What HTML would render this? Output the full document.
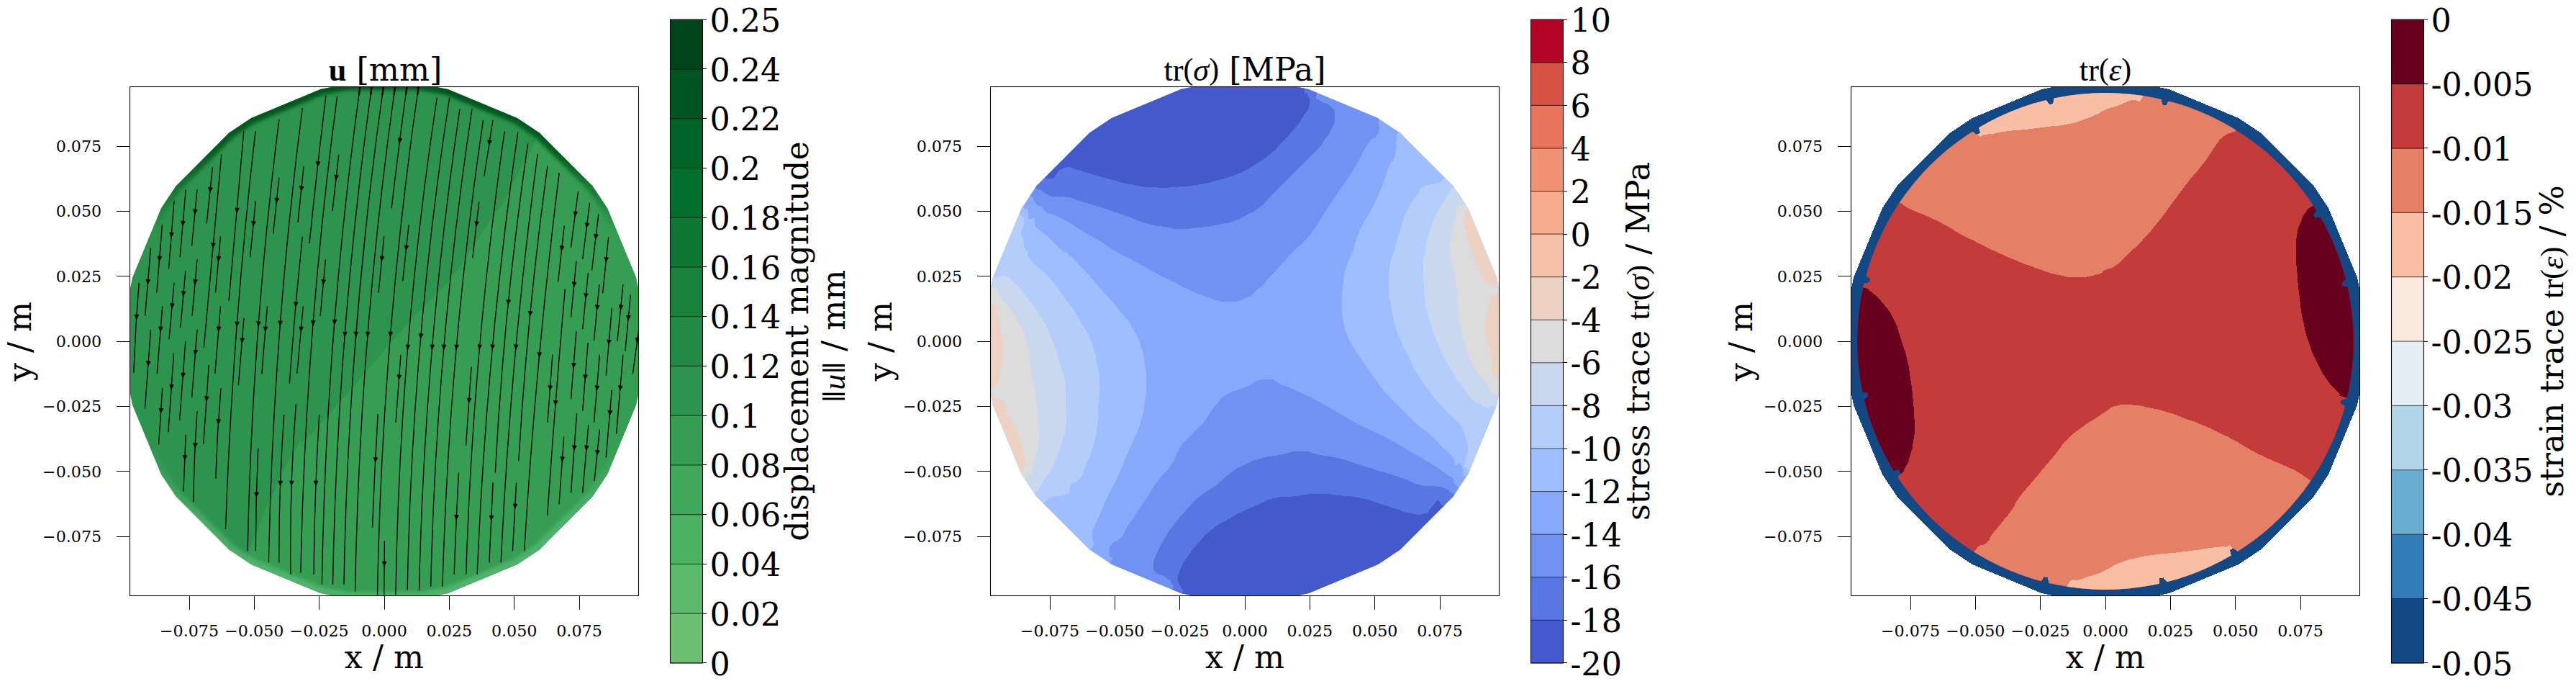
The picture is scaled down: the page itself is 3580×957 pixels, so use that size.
<!DOCTYPE html>
<html lang="en"><head><meta charset="utf-8"><title>fields</title>
<style>html,body{margin:0;padding:0;background:#fff}svg{display:block}</style></head>
<body>
<svg width="3580" height="957" viewBox="0 0 3580 957">
<style>
.tk{stroke:#000;stroke-width:1;shape-rendering:crispEdges}
.st{font-family:'DejaVu Serif', 'Liberation Serif', serif;font-size:22.2px;fill:#000}
.bt{font-family:'DejaVu Serif', 'Liberation Serif', serif;font-size:44.4px;fill:#000}
.mt{font-family:'Liberation Serif', 'DejaVu Serif', serif;font-size:44.4px;fill:#000}
</style>
<rect width="3580" height="957" fill="#fff"/>
<defs>
<clipPath id="ax0"><rect x="180.5" y="120.5" width="707.0" height="707.0"/></clipPath>
<clipPath id="pg0"><polygon points="891.2,526.1 891.2,421.9 884.0,385.4 844.1,289.2 823.4,258.3 749.7,184.6 718.8,163.9 622.6,124.0 586.1,116.8 481.9,116.8 445.4,124.0 349.2,163.9 318.3,184.6 244.6,258.3 223.9,289.2 184.0,385.4 176.8,421.9 176.8,526.1 184.0,562.6 223.9,658.8 244.6,689.7 318.3,763.4 349.2,784.1 445.4,824.0 481.9,831.2 586.1,831.2 622.6,824.0 718.8,784.1 749.7,763.4 823.4,689.7 844.1,658.8 884.0,562.6"/></clipPath>
<linearGradient id="edg" gradientUnits="userSpaceOnUse" x1="0" y1="113" x2="0" y2="835"><stop offset="0" stop-color="#02561b" stop-opacity="1"/><stop offset="0.14" stop-color="#02561b" stop-opacity="0.9"/><stop offset="0.29" stop-color="#02561b" stop-opacity="0"/><stop offset="0.70" stop-color="#6cc684" stop-opacity="0"/><stop offset="0.84" stop-color="#6cc684" stop-opacity="0.45"/><stop offset="1" stop-color="#6cc684" stop-opacity="0.55"/></linearGradient>
<filter id="bl" x="-5%" y="-5%" width="110%" height="110%"><feGaussianBlur stdDeviation="2.8"/></filter>
</defs>
<g clip-path="url(#ax0)">
<g clip-path="url(#pg0)">
<rect x="180.5" y="120.5" width="707.0" height="707.0" fill="#2c944c"/>
<path d="M770.0,130.0C761.7,151.3 759.0,162.7 745.0,194.0C731.0,225.3 742.0,197.3 728.0,224.0C714.0,250.7 717.0,248.7 703.0,274.0C689.0,299.3 699.7,279.7 686.0,300.0C672.3,320.3 678.7,310.0 662.0,335.0C645.3,360.0 656.7,348.3 636.0,375.0C615.3,401.7 626.7,386.3 600.0,415.0C573.3,443.7 590.3,422.7 556.0,461.0C521.7,499.3 537.3,483.7 497.0,530.0C456.7,576.3 464.3,567.7 435.0,600.0C405.7,632.3 428.0,597.3 409.0,627.0C390.0,656.7 395.0,652.7 378.0,689.0C361.0,725.3 368.0,711.0 358.0,736.0C348.0,761.0 355.7,742.7 348.0,764.0C340.3,785.3 339.3,788.0 335.0,800.0L900,900L900,100Z" fill="#359e53"/>
<polygon points="891.2,526.1 891.2,421.9 884.0,385.4 844.1,289.2 823.4,258.3 749.7,184.6 718.8,163.9 622.6,124.0 586.1,116.8 481.9,116.8 445.4,124.0 349.2,163.9 318.3,184.6 244.6,258.3 223.9,289.2 184.0,385.4 176.8,421.9 176.8,526.1 184.0,562.6 223.9,658.8 244.6,689.7 318.3,763.4 349.2,784.1 445.4,824.0 481.9,831.2 586.1,831.2 622.6,824.0 718.8,784.1 749.7,763.4 823.4,689.7 844.1,658.8 884.0,562.6" fill="none" stroke="url(#edg)" stroke-width="17" stroke-linejoin="round" filter="url(#bl)"/>
</g>
<path d="M209.5,344.2L201.6,438.7M225.5,311.8L217.8,406.2M242.0,279.2L234.5,373.5M258.2,263.2L250.1,357.2M274.0,263.2L266.6,341.4M295.4,232.3L287.2,310.1M307.8,214.5Q295.3,348.6 283.3,482.8M306.5,328.2L299.5,406.2M338.8,182.1Q328.8,299.9 318.1,417.8M355.1,182.1Q323.1,458.4 313.5,734.7M355.3,279.2L347.6,357.2M387.9,165.7Q350.1,465.5 344.1,765.3M387.8,246.7L379.6,325.2M420.3,150.0Q379.5,465.6 373.4,781.1M422.1,231.2L414.0,308.7M420.3,328.7Q409.3,430.6 402.4,532.5M452.9,133.2Q440.4,235.7 430.0,338.1M468.7,133.2Q424.4,464.4 417.9,795.5M470.8,214.9L462.0,292.8M193.2,392.9Q188.1,455.4 185.8,517.9M274.0,360.4L267.0,438.7M257.8,376.7L250.8,454.9M242.0,392.9L235.0,471.2M225.7,425.4L218.3,519.0M209.5,457.9L201.4,567.8M274.0,457.9L266.6,552.2M257.8,474.2L249.6,584.0M241.5,490.4L233.9,600.3M306.5,425.4L298.8,519.0M339.0,441.7L331.3,535.3M371.5,425.4L363.8,519.0M421.3,425.4L412.8,519.0M225.7,539.2L220.6,617.2M290.3,506.7L282.8,616.5M274.0,571.2Q269.6,634.2 268.9,697.3M258.2,603.7L255.0,682.5M307.0,539.2Q301.6,602.0 299.8,664.8M358.7,623.0Q355.4,694.1 355.3,765.3M394.7,575.9Q387.4,678.8 387.8,781.6M411.4,560.8Q402.2,679.3 404.0,797.8M452.5,360.5L445.1,438.8M500.3,121.0Q452.8,466.4 447.4,811.8M516.5,121.0Q468.6,466.4 462.5,811.8M532.8,121.0Q483.7,466.4 478.0,811.8M549.0,121.0Q499.6,471.3 493.6,821.6M565.3,121.0Q553.8,205.0 544.2,289.0M581.5,121.0Q530.7,473.6 524.5,826.2M607.3,135.5Q555.0,480.9 550.0,826.2M624.7,135.5Q572.3,477.4 566.2,819.3M639.0,151.3Q589.8,485.9 582.5,820.4M656.0,151.3Q606.1,483.0 598.7,814.6M671.5,166.9Q623.8,490.8 615.0,814.6M533.7,328.0L526.1,406.5M568.1,312.2L559.7,390.2M557.0,492.7L550.0,586.7M655.1,509.4L647.5,619.0M443.7,576.2Q436.9,687.0 436.2,797.9M525.2,575.1Q520.5,654.0 517.5,732.8M637.5,656.2Q633.5,727.0 631.2,797.9M534.4,751.3L533.7,827.0M685.0,166.9L672.9,244.6M701.2,182.4Q657.2,490.1 647.7,797.7M719.8,183.1Q675.8,490.4 663.2,797.7M733.7,199.4Q700.2,427.9 688.3,656.5M747.2,214.0Q709.3,497.7 696.2,781.4M760.9,230.7Q732.8,435.5 720.8,640.3M777.2,240.4Q744.4,502.8 728.7,765.2M665.8,279.9L656.8,358.2M803.5,265.5L793.5,343.7M819.5,281.8L809.7,360.0M831.8,297.3L822.5,375.8M845.7,329.4L837.6,407.2M784.2,313.6L775.6,391.6M800.9,362.8L793.5,440.8M817.4,379.0L809.7,457.1M832.9,395.1L825.5,473.5M865.9,395.1L858.0,473.5M876.3,409.7L868.9,487.9M850.3,428.1L842.2,522.1M888.5,452.0L879.4,519.3M785.3,401.4Q771.3,558.9 760.7,716.4M800.9,460.1L793.5,554.4M817.1,476.3L809.7,570.6M833.4,492.6L825.5,586.9M865.9,492.6L856.6,602.4M767.9,492.6L761.0,586.9M850.3,541.6L842.2,635.6M801.6,574.1L793.5,684.4M817.8,590.4L809.7,684.4M833.4,596.6L826.0,668.1M783.7,606.1L777.0,700.2M685.1,670.4L679.9,781.4M717.6,670.4L712.4,765.2" fill="none" stroke="#000" stroke-width="1.35"/>
<path d="M205.3,394.6L202.9,388.2L208.7,388.7ZM221.4,362.4L219.0,356.0L224.8,356.4ZM238.0,329.4L235.6,323.0L241.4,323.4ZM253.9,313.6L251.5,307.2L257.3,307.7ZM270.8,297.4L268.5,290.9L274.2,291.5ZM291.8,266.8L289.5,260.3L295.3,260.9ZM295.8,344.1L293.5,337.6L299.3,338.2ZM303.4,362.6L301.1,356.2L306.9,356.7ZM329.0,295.3L326.7,288.9L332.5,289.4ZM329.1,453.4L326.6,447.0L332.4,447.4ZM351.9,313.9L349.6,307.4L355.4,308.0ZM359.0,452.9L356.5,446.5L362.3,446.9ZM384.1,281.8L381.9,275.3L387.7,275.9ZM389.2,452.2L386.7,445.8L392.5,446.2ZM418.6,265.1L416.3,258.6L422.1,259.2ZM410.7,426.0L408.4,419.6L414.2,420.1ZM441.5,231.0L439.3,224.5L445.0,225.1ZM434.9,451.7L432.5,445.3L438.2,445.7ZM466.9,249.6L464.7,243.1L470.5,243.7ZM189.5,443.6L187.0,437.2L192.8,437.6ZM270.9,394.6L268.6,388.2L274.4,388.7ZM254.7,411.1L252.4,404.7L258.2,405.2ZM238.9,427.8L236.5,421.4L242.3,421.9ZM222.9,460.3L220.5,453.9L226.3,454.3ZM205.8,508.2L203.4,501.8L209.1,502.2ZM271.3,492.8L268.9,486.4L274.6,486.8ZM254.1,524.4L251.6,518.0L257.4,518.4ZM238.0,540.7L235.6,534.3L241.3,534.7ZM303.6,460.3L301.2,453.9L307.0,454.3ZM336.2,476.1L333.8,469.7L339.6,470.1ZM368.6,460.3L366.2,453.9L372.0,454.3ZM418.1,460.3L415.8,453.9L421.6,454.4ZM223.5,573.6L221.0,567.2L226.7,567.6ZM286.9,556.9L284.4,550.5L290.2,550.9ZM271.1,621.9L268.5,615.6L274.2,615.8ZM256.8,638.9L254.1,632.6L259.9,632.8ZM303.3,589.0L300.8,582.6L306.6,583.0ZM356.3,690.2L353.6,683.9L359.4,684.1ZM389.5,674.4L386.8,668.1L392.6,668.3ZM405.1,674.4L402.4,668.1L408.2,668.3ZM449.2,395.0L446.9,388.5L452.7,389.1ZM464.6,450.5L462.2,444.1L467.9,444.5ZM479.0,467.5L476.6,461.1L482.3,461.5ZM494.5,467.5L492.1,461.1L497.8,461.5ZM510.8,467.5L508.4,461.1L514.1,461.5ZM555.1,198.5L553.0,192.0L558.8,192.7ZM542.3,467.5L540.0,461.1L545.7,461.5ZM566.4,485.3L564.1,478.9L569.8,479.3ZM584.5,469.8L582.2,463.4L588.0,463.9ZM600.3,485.3L598.0,478.9L603.8,479.4ZM616.5,485.3L614.2,478.9L620.0,479.4ZM634.0,485.3L631.7,478.9L637.5,479.4ZM530.4,362.5L528.1,356.0L533.8,356.6ZM564.3,347.4L562.1,340.9L567.9,341.5ZM554.4,527.1L552.0,520.7L557.8,521.1ZM651.6,559.6L649.2,553.2L654.9,553.6ZM438.9,674.3L436.2,668.0L442.0,668.2ZM521.5,641.8L519.0,635.5L524.8,635.8ZM634.2,721.9L631.5,715.6L637.3,715.8ZM534.1,786.4L531.2,780.2L537.0,780.2ZM679.6,201.3L677.7,194.7L683.5,195.6ZM666.2,485.2L663.9,478.8L669.7,479.3ZM684.1,485.2L681.8,478.7L687.6,479.3ZM706.1,423.0L703.8,416.5L709.6,417.1ZM716.6,485.2L714.3,478.7L720.1,479.3ZM736.5,438.8L734.2,432.3L740.0,432.9ZM749.3,496.1L747.0,489.6L752.8,490.2ZM661.9,314.1L659.7,307.6L665.5,308.3ZM799.0,300.4L797.0,293.9L802.7,294.6ZM815.2,316.2L813.1,309.7L818.8,310.4ZM827.7,331.8L825.6,325.3L831.3,326.0ZM842.1,363.8L839.9,357.3L845.6,357.9ZM780.4,348.0L778.2,341.5L784.0,342.1ZM797.5,398.2L795.2,391.7L801.0,392.3ZM814.0,414.0L811.7,407.5L817.4,408.1ZM829.6,430.2L827.3,423.7L833.1,424.3ZM862.4,430.2L860.1,423.7L865.9,424.3ZM873.0,444.6L870.7,438.1L876.5,438.7ZM846.0,478.3L843.6,471.9L849.4,472.4ZM885.3,476.0L883.2,469.4L889.0,470.2ZM771.9,562.8L769.4,556.4L775.2,556.8ZM796.9,510.8L794.5,504.4L800.3,504.8ZM813.1,527.0L810.7,520.6L816.5,521.0ZM829.3,542.1L826.9,535.7L832.7,536.2ZM861.7,542.1L859.3,535.7L865.1,536.2ZM764.3,542.1L761.8,535.7L767.6,536.1ZM847.3,576.7L844.9,570.3L850.7,570.8ZM797.8,625.3L795.4,618.9L801.2,619.3ZM814.8,625.3L812.4,618.9L818.2,619.4ZM829.8,631.8L827.5,625.3L833.3,625.9ZM781.2,641.0L778.8,634.6L784.5,635.0ZM682.7,722.5L680.1,716.2L685.8,716.4ZM715.6,706.3L713.1,699.9L718.9,700.3Z" fill="#000" stroke="#000" stroke-width="0.7" stroke-linejoin="miter"/>
<path d="M500.3,121L498.9,132M516.5,121L515.1,132M532.8,121L531.4,132M549.0,121L547.6,132M565.3,121L563.9,132M581.5,121L580.1,132" fill="none" stroke="#000" stroke-width="2.4"/>
</g>
<defs>
<clipPath id="ax1"><rect x="1376.5" y="120.5" width="707.0" height="707.0"/></clipPath>
<clipPath id="pg1"><polygon points="2087.2,526.1 2087.2,421.9 2080.0,385.4 2040.1,289.2 2019.4,258.3 1945.7,184.6 1914.8,163.9 1818.6,124.0 1782.1,116.8 1677.9,116.8 1641.4,124.0 1545.2,163.9 1514.3,184.6 1440.6,258.3 1419.9,289.2 1380.0,385.4 1372.8,421.9 1372.8,526.1 1380.0,562.6 1419.9,658.8 1440.6,689.7 1514.3,763.4 1545.2,784.1 1641.4,824.0 1677.9,831.2 1782.1,831.2 1818.6,824.0 1914.8,784.1 1945.7,763.4 2019.4,689.7 2040.1,658.8 2080.0,562.6"/></clipPath>
</defs>
<g clip-path="url(#ax1)"><g clip-path="url(#pg1)" shape-rendering="crispEdges">
<rect x="1376.5" y="120.5" width="707.0" height="707.0" fill="#86a9fc"/>
<path d="M1398.6,249.8C1409.6,257.3 1419.2,263.0 1431.7,272.2C1444.2,281.4 1433.2,273.4 1436.1,277.4C1439.0,281.5 1436.6,281.2 1440.4,284.4C1444.2,287.6 1442.7,283.5 1447.4,287.0C1452.0,290.5 1448.0,290.8 1454.3,294.8C1460.7,298.9 1457.8,295.4 1466.5,299.2C1475.2,303.0 1470.0,300.4 1480.5,306.2C1490.9,312.0 1486.3,309.6 1497.9,316.6C1509.5,323.6 1503.7,320.1 1515.3,327.0C1526.9,334.0 1521.1,330.2 1532.7,337.5C1544.3,344.7 1534.7,340.0 1550.1,348.8C1565.5,357.6 1560.0,353.7 1578.9,363.9C1597.8,374.2 1590.5,370.9 1606.8,379.6C1623.0,388.3 1613.7,383.1 1627.7,390.0C1641.6,397.0 1632.3,393.2 1648.6,400.5C1664.8,407.8 1657.8,405.8 1676.4,412.0C1695.0,418.1 1686.4,418.1 1704.3,418.9C1722.1,419.8 1715.6,420.0 1730.0,414.4C1744.4,408.8 1735.8,412.1 1747.4,402.2C1759.0,392.4 1753.2,397.0 1764.8,384.8C1776.4,372.6 1771.8,377.3 1782.2,365.7C1792.7,354.1 1783.4,363.3 1796.2,350.0C1808.9,336.7 1805.4,344.4 1820.5,325.9C1835.6,307.4 1827.5,315.4 1841.4,294.5C1855.3,273.6 1848.4,284.1 1862.3,263.2C1876.2,242.3 1870.4,252.8 1883.2,231.9C1896.0,211.0 1890.2,215.6 1900.6,200.5C1911.1,185.4 1909.3,197.0 1914.5,186.6C1919.8,176.2 1915.5,176.5 1916.3,169.2C1917.1,161.9 1909.8,177.6 1917.0,164.7C1924.1,151.7 1930.8,141.8 1937.7,130.4L2050.7,-56.6L1957.0,-103.0L1856.8,-132.9L1753.0,-145.6L1648.6,-140.6L1546.4,-118.2L1449.5,-78.9L1360.6,-23.9L1282.2,45.2L1216.5,126.6Z" fill="#6f92f3"/>
<path d="M1405.5,236.4C1416.3,244.3 1424.4,251.0 1437.8,260.0C1451.2,269.1 1440.1,260.3 1445.6,263.5C1451.2,266.7 1447.4,266.4 1454.3,269.6C1461.3,272.8 1456.7,271.6 1466.5,273.1C1476.4,274.5 1473.5,272.2 1483.9,273.9C1494.4,275.7 1487.4,275.1 1497.9,278.3C1508.3,281.5 1503.7,280.0 1515.3,283.5C1526.9,287.0 1516.1,283.3 1532.7,288.7C1549.3,294.2 1544.9,292.6 1565.0,299.8C1585.0,306.9 1574.3,305.0 1592.8,310.2C1611.4,315.4 1605.6,312.9 1620.7,315.4C1635.8,318.0 1623.0,317.6 1638.1,317.9C1653.2,318.1 1647.4,318.1 1666.0,316.1C1684.5,314.2 1676.4,315.4 1693.8,311.9C1711.2,308.5 1706.1,309.7 1718.2,305.7C1730.3,301.6 1719.1,305.8 1730.0,299.8C1740.9,293.7 1738.1,297.4 1750.9,287.6C1763.7,277.7 1755.5,282.9 1768.3,270.2C1781.1,257.4 1775.3,263.2 1789.2,249.3C1803.1,235.3 1796.2,242.3 1810.1,228.4C1824.0,214.5 1820.5,219.1 1831.0,207.5C1841.4,195.9 1835.0,202.9 1841.4,193.6C1847.8,184.3 1845.5,190.1 1850.1,179.6C1854.8,169.2 1855.3,172.7 1855.3,162.2C1855.3,151.8 1857.1,155.8 1850.1,148.3C1843.2,140.8 1841.2,145.7 1834.5,139.6C1827.7,133.4 1827.7,145.9 1829.9,129.8C1832.1,113.8 1837.4,104.2 1841.1,91.4L1902.9,-121.4L1796.9,-142.4L1688.9,-144.6L1582.1,-128.1L1479.9,-93.3L1385.2,-41.3L1301.0,26.4L1229.8,107.7Z" fill="#5977e3"/>
<path d="M1422.6,222.2C1432.9,230.6 1435.1,243.7 1453.6,247.5C1472.0,251.3 1464.0,237.7 1477.9,233.6C1491.9,229.5 1482.6,232.7 1495.3,235.3C1508.1,238.0 1500.0,237.0 1516.2,241.6C1532.5,246.3 1525.5,244.4 1544.1,249.3C1562.7,254.2 1551.1,252.5 1571.9,256.2C1592.8,260.0 1585.9,259.3 1606.8,260.4C1627.7,261.6 1616.1,260.9 1634.6,259.7C1653.2,258.6 1643.9,259.8 1662.5,256.9C1681.0,254.0 1671.8,255.9 1690.3,251.0C1708.9,246.1 1705.0,247.0 1718.2,242.3C1731.4,237.7 1720.3,242.3 1730.0,237.1C1739.7,231.9 1735.8,234.2 1747.4,226.6C1759.0,219.1 1753.2,224.3 1764.8,214.5C1776.4,204.6 1770.6,209.2 1782.2,197.0C1793.8,184.9 1789.8,190.1 1799.6,177.9C1809.5,165.7 1805.1,171.5 1811.8,160.5C1818.6,149.5 1818.1,154.7 1819.8,144.8C1821.6,135.0 1819.1,138.1 1817.0,130.9C1815.0,123.7 1811.6,138.8 1813.6,123.2C1815.5,107.7 1819.7,97.3 1822.8,84.3L1873.7,-129.1L1775.9,-144.3L1677.0,-143.7L1579.4,-127.4L1485.6,-95.8L1398.1,-49.7L1319.0,9.8L1250.4,81.1Z" fill="#445acc"/>
<path d="M1522.3,816.4C1529.2,805.0 1536.4,797.3 1543.1,782.2C1549.7,767.1 1542.0,779.4 1542.4,771.1C1542.7,762.7 1538.9,765.3 1544.1,757.1C1549.3,749.0 1549.9,756.0 1558.0,746.7C1566.1,737.4 1560.3,742.0 1568.5,729.3C1576.6,716.5 1573.1,722.3 1582.4,708.4C1591.7,694.5 1587.0,701.4 1596.3,687.5C1605.6,673.6 1599.8,680.5 1610.3,666.6C1620.7,652.7 1618.4,659.6 1627.7,645.7C1636.9,631.8 1631.1,636.4 1638.1,624.8C1645.1,613.2 1638.1,622.5 1648.6,610.9C1659.0,599.3 1659.0,601.5 1669.4,590.0C1679.9,578.5 1672.9,585.5 1679.9,576.3C1686.9,567.1 1682.2,571.7 1690.3,562.4C1698.5,553.1 1691.0,556.6 1704.3,548.5C1717.5,540.3 1712.2,545.2 1730.0,538.0C1747.9,530.8 1740.5,528.0 1757.9,526.9C1775.3,525.7 1764.8,527.9 1782.2,534.5C1799.6,541.2 1792.7,538.6 1810.1,546.7C1827.5,554.9 1818.2,550.2 1834.5,558.9C1850.7,567.6 1842.6,563.6 1858.8,572.8C1875.1,582.1 1865.8,577.6 1883.2,586.8C1900.6,596.0 1894.8,592.4 1911.1,600.4C1927.3,608.5 1918.0,603.3 1931.9,610.9C1945.9,618.4 1938.9,615.0 1952.8,623.1C1966.8,631.2 1959.8,627.1 1973.7,635.3C1987.7,643.4 1983.0,639.9 1994.6,647.5C2006.2,655.0 2000.4,652.1 2008.6,657.9C2016.7,663.7 2013.0,658.5 2019.0,664.9C2025.0,671.2 2013.1,665.5 2026.7,677.0C2040.2,688.6 2048.7,692.1 2059.7,699.6L2241.6,824.2L2175.7,905.0L2097.1,973.6L2008.2,1028.1L1911.4,1066.9L1809.4,1088.9L1705.2,1093.5L1601.7,1080.6L1501.9,1050.5L1408.4,1004.1Z" fill="#6f92f3"/>
<path d="M1618.2,857.2C1621.9,844.4 1625.7,833.5 1629.4,818.8C1633.1,804.0 1632.3,818.3 1629.4,812.8C1626.5,807.4 1628.2,808.2 1620.7,802.4C1613.2,796.6 1612.6,801.2 1606.8,795.4C1601.0,789.6 1603.3,793.1 1603.3,785.0C1603.3,776.9 1602.1,782.7 1606.8,771.1C1611.4,759.5 1609.1,764.1 1617.2,750.2C1625.3,736.2 1620.7,743.2 1631.1,729.3C1641.6,715.3 1636.9,721.2 1648.6,708.4C1660.2,695.6 1652.0,702.6 1666.0,691.0C1679.9,679.4 1675.2,685.2 1690.3,673.6C1705.4,662.0 1698.0,665.4 1711.2,656.2C1724.4,646.9 1716.8,652.1 1730.0,645.7C1743.2,639.3 1734.6,641.6 1750.9,637.0C1767.1,632.4 1759.6,635.3 1778.7,631.8C1797.9,628.3 1789.8,626.6 1808.3,626.6C1826.9,626.6 1816.5,628.3 1834.5,631.8C1852.4,635.3 1843.7,632.4 1862.3,637.0C1880.9,641.6 1871.6,639.9 1890.2,645.7C1908.7,651.5 1899.5,648.6 1918.0,654.4C1936.6,660.2 1927.3,656.7 1945.9,663.1C1964.4,669.5 1957.5,669.5 1973.7,673.6C1990.0,677.6 1983.0,673.6 1994.6,675.3C2006.2,677.0 1999.8,675.0 2008.6,678.8C2017.3,682.6 2005.9,676.3 2020.7,686.8C2035.6,697.3 2042.3,702.5 2053.0,710.4L2230.3,840.2L2168.7,912.1L2096.9,973.8L2016.5,1023.8L1929.5,1061.0L1837.7,1084.6L1743.5,1093.9L1649.0,1088.7L1556.3,1069.2Z" fill="#5977e3"/>
<path d="M1633.7,863.5C1636.9,850.6 1640.7,840.4 1643.3,824.7C1645.9,809.0 1643.6,822.6 1641.6,816.3C1639.6,810.1 1637.4,815.2 1637.4,805.9C1637.4,796.6 1636.7,800.1 1641.6,788.5C1646.5,776.9 1643.9,782.7 1652.0,771.1C1660.2,759.5 1655.5,765.3 1666.0,753.6C1676.4,742.0 1669.4,747.3 1683.4,736.2C1697.3,725.2 1692.2,729.6 1707.7,720.6C1723.3,711.5 1715.6,716.0 1730.0,709.1C1744.4,702.1 1737.0,705.5 1750.9,699.7C1764.8,693.9 1755.5,695.2 1771.8,691.7C1788.0,688.2 1779.9,691.2 1799.6,689.2C1819.4,687.3 1810.1,686.1 1831.0,685.8C1851.9,685.4 1842.6,686.2 1862.3,688.2C1882.0,690.2 1871.6,687.8 1890.2,691.7C1908.7,695.5 1901.8,694.7 1918.0,699.7C1934.3,704.7 1925.0,702.3 1938.9,706.6C1952.8,710.9 1946.5,710.2 1959.8,712.6C1973.2,714.9 1969.1,716.2 1979.0,713.6C1988.8,711.1 1982.4,711.3 1989.4,704.9C1996.4,698.5 1994.6,695.4 1999.8,694.5C2005.1,693.5 1993.1,691.1 2005.1,702.1C2017.1,713.2 2025.6,719.1 2035.9,727.7L2207.2,869.8L2138.0,940.8L2058.4,999.9L1970.4,1045.5L1876.2,1076.5L1778.3,1092.1L1679.1,1091.9L1581.2,1075.9Z" fill="#445acc"/>
<path d="M1386.2,266.3C1397.6,273.2 1406.4,278.4 1420.4,287.0C1434.4,295.6 1425.0,286.7 1428.2,292.2C1431.4,297.7 1427.1,299.8 1430.0,303.5C1432.9,307.3 1434.0,300.4 1436.9,303.5C1439.8,306.7 1435.8,307.6 1438.7,313.1C1441.6,318.6 1440.4,315.4 1445.6,320.1C1450.9,324.7 1447.4,320.7 1454.3,327.0C1461.3,333.4 1457.8,331.1 1466.5,339.2C1475.2,347.4 1475.5,347.8 1480.5,351.4C1485.4,355.0 1471.8,341.2 1481.4,350.0C1491.0,358.8 1491.9,359.3 1509.3,377.9C1526.7,396.4 1517.4,387.1 1533.6,405.7C1549.9,424.3 1544.1,416.2 1558.0,433.6C1571.9,451.0 1566.1,441.7 1575.4,457.9C1584.7,474.2 1580.7,466.1 1585.9,482.3C1591.1,498.6 1588.8,490.4 1591.1,506.7C1593.4,522.9 1592.8,513.6 1592.8,531.1C1592.8,548.5 1594.0,539.3 1591.1,558.9C1588.2,578.5 1589.4,572.6 1584.1,589.9C1578.9,607.2 1582.4,594.6 1575.4,610.9C1568.5,627.2 1571.4,620.2 1563.2,638.7C1555.1,657.3 1559.8,648.0 1551.1,666.6C1542.4,685.2 1544.7,678.2 1537.1,694.5C1529.6,710.7 1533.6,703.7 1528.4,715.3C1523.2,727.0 1524.9,720.0 1521.5,729.3C1518.0,738.6 1518.6,733.9 1518.0,743.2C1517.4,752.5 1520.5,750.5 1519.7,757.1C1518.9,763.7 1524.9,750.4 1515.5,763.1C1506.2,775.7 1499.7,784.5 1491.7,795.2L1360.6,971.9L1284.2,904.9L1219.9,826.4L1169.2,738.4L1133.6,643.3L1113.9,543.7L1110.8,442.1L1124.3,341.5L1154.1,244.4L1199.3,153.5Z" fill="#9ebeff"/>
<path d="M1381.2,277.8C1392.8,284.4 1402.1,288.3 1416.0,297.5C1430.0,306.6 1421.3,298.9 1423.0,305.3C1424.7,311.7 1422.7,309.9 1421.3,316.6C1419.8,323.3 1418.4,320.1 1418.7,325.3C1418.9,330.5 1420.4,326.5 1422.1,332.3C1423.9,338.1 1421.3,336.3 1423.9,342.7C1426.5,349.1 1428.2,349.0 1430.0,351.4C1431.7,353.8 1428.3,346.4 1429.2,350.0C1430.1,353.6 1423.4,350.6 1432.7,362.2C1442.0,373.8 1440.8,366.8 1457.0,384.8C1473.3,402.8 1466.3,395.3 1481.4,416.2C1496.5,437.0 1490.1,426.6 1502.3,447.5C1514.5,468.4 1510.4,459.1 1518.0,478.8C1525.5,498.6 1521.5,489.3 1524.9,506.7C1528.4,524.1 1527.8,513.6 1528.4,531.1C1529.0,548.5 1527.8,539.3 1526.7,558.9C1525.5,578.5 1527.3,570.3 1524.9,589.9C1522.6,609.5 1524.9,599.3 1519.7,617.9C1514.5,636.5 1515.7,630.0 1509.3,645.7C1502.9,661.4 1507.5,655.6 1500.6,664.9C1493.6,674.1 1494.2,666.6 1488.4,673.6C1482.6,680.5 1492.4,679.9 1483.2,685.8C1473.9,691.6 1471.2,686.7 1460.5,691.0C1449.9,695.3 1464.6,687.7 1451.1,698.6C1437.6,709.6 1430.4,715.4 1420.0,723.7L1247.2,862.9L1188.3,775.6L1145.1,679.6L1118.7,577.6L1110.0,472.7L1119.2,367.8L1146.0,265.9L1189.6,170.1Z" fill="#b5cdfa"/>
<path d="M1339.9,375.0C1352.9,378.3 1360.6,382.1 1378.7,384.8C1396.9,387.5 1384.5,380.8 1394.4,383.1C1404.2,385.4 1397.9,382.5 1408.3,391.8C1418.7,401.1 1412.9,394.7 1425.7,410.9C1438.5,427.2 1434.4,420.2 1446.6,440.5C1458.8,460.8 1453.6,451.0 1462.3,471.9C1471.0,492.8 1466.9,483.5 1472.7,503.2C1478.5,522.9 1477.0,512.5 1479.7,531.1C1482.3,549.6 1480.1,539.3 1480.7,558.9C1481.3,578.5 1483.5,570.3 1481.4,589.9C1479.3,609.5 1480.3,599.3 1474.5,617.9C1468.7,636.5 1471.6,630.0 1464.0,645.7C1456.5,661.4 1458.2,654.4 1451.8,664.9C1445.4,675.3 1449.5,670.4 1444.9,677.0C1440.2,683.7 1451.0,674.4 1437.9,684.7C1424.8,695.1 1416.3,700.3 1405.5,708.1L1227.2,836.7L1179.9,759.9L1144.2,677.1L1120.9,590.0L1110.6,500.4L1113.3,410.2L1129.1,321.4Z" fill="#cad8ef"/>
<path d="M1338.5,390.4C1351.6,393.2 1362.0,394.8 1377.7,398.7C1393.4,402.7 1381.3,397.0 1385.7,402.2C1390.1,407.5 1384.5,405.1 1390.9,414.4C1397.3,423.7 1396.1,417.9 1404.8,430.1C1413.5,442.3 1410.0,437.0 1417.0,451.0C1424.0,464.9 1421.1,455.6 1425.7,471.9C1430.4,488.1 1428.0,482.3 1430.9,499.7C1433.8,517.1 1431.5,506.7 1434.4,524.1C1437.3,541.5 1436.7,530.0 1439.6,551.9C1442.5,573.9 1442.0,567.9 1443.1,589.9C1444.3,611.9 1445.4,600.4 1443.1,617.9C1440.8,635.3 1439.1,630.0 1436.2,642.2C1433.3,654.4 1437.9,647.5 1434.4,654.4C1430.9,661.4 1439.9,653.2 1425.7,663.1C1411.5,673.1 1403.1,677.2 1391.7,684.2L1203.4,801.3L1159.6,717.0L1129.2,627.1L1112.9,533.5L1111.0,438.6L1123.7,344.5Z" fill="#dddcdc"/>
<path d="M1967.1,151.6C1959.2,162.3 1952.3,169.8 1943.4,183.8C1934.6,197.8 1942.2,183.4 1940.7,193.6C1939.1,203.8 1942.4,201.7 1938.9,214.5C1935.4,227.2 1936.0,217.9 1930.2,231.9C1924.4,245.8 1929.0,237.7 1921.5,256.2C1914.0,274.8 1918.0,266.7 1907.6,287.6C1897.1,308.5 1899.5,298.1 1890.2,318.9C1880.9,339.7 1886.1,332.6 1879.7,349.9C1873.3,367.2 1875.4,355.8 1871.0,370.9C1866.6,386.0 1868.6,377.9 1866.5,395.3C1864.4,412.7 1864.4,405.7 1864.7,423.1C1865.1,440.5 1864.6,432.4 1867.5,447.5C1870.4,462.6 1868.2,455.6 1873.5,468.4C1878.7,481.2 1875.3,473.0 1883.2,485.8C1891.1,498.6 1886.7,491.6 1897.1,506.7C1907.6,521.8 1902.9,516.0 1914.5,531.1C1926.1,546.1 1919.2,538.0 1931.9,551.9C1944.7,565.9 1940.1,560.2 1952.8,572.8C1965.6,585.5 1958.6,579.5 1970.3,589.9C1981.9,600.3 1976.1,593.4 1987.7,603.9C1999.3,614.4 1994.6,610.9 2005.1,621.3C2015.5,631.8 2013.2,627.1 2019.0,635.3C2024.8,643.4 2019.0,642.8 2022.5,645.7C2026.0,648.6 2025.4,639.3 2029.4,644.0C2033.5,648.6 2032.3,653.8 2034.7,659.6C2037.0,665.4 2024.5,653.8 2036.4,661.4C2048.4,668.9 2059.2,675.3 2070.5,682.2L2258.9,797.5L2304.9,706.2L2335.2,608.5L2349.1,507.3L2346.2,405.1L2326.5,304.8L2290.6,209.1L2239.4,120.6L2174.4,41.7L2097.4,-25.4Z" fill="#9ebeff"/>
<path d="M2038.5,222.2C2028.2,230.7 2021.0,236.8 2007.5,247.5C1994.0,258.3 2008.2,250.4 1998.1,254.5C1988.0,258.6 1986.5,254.5 1977.2,259.7C1967.9,264.9 1977.2,259.7 1970.3,270.2C1963.3,280.6 1964.4,274.8 1956.3,291.1C1948.2,307.3 1952.3,299.3 1945.9,318.9C1939.5,338.5 1942.0,332.6 1937.2,349.9C1932.3,367.2 1933.6,355.8 1931.3,370.9C1928.9,386.0 1929.7,377.9 1930.2,395.3C1930.7,412.7 1929.7,404.5 1932.6,423.1C1935.5,441.7 1933.9,433.6 1938.9,451.0C1943.9,468.4 1941.2,460.3 1947.6,475.3C1954.0,490.4 1950.5,481.2 1958.1,496.2C1965.6,511.3 1960.4,504.4 1970.3,520.6C1980.1,536.9 1976.1,529.9 1987.7,545.0C1999.3,560.1 1993.5,553.1 2005.1,565.9C2016.7,578.6 2014.4,575.2 2022.5,583.3C2030.6,591.3 2024.8,582.0 2029.4,590.0C2034.1,598.0 2032.9,595.8 2036.4,607.4C2039.9,619.0 2039.9,613.2 2039.9,624.8C2039.9,636.4 2036.1,632.9 2036.4,642.2C2036.8,651.5 2027.9,642.5 2040.9,652.7C2054.0,662.8 2064.1,666.0 2075.6,672.6L2267.6,782.9L2312.6,686.2L2340.3,583.2L2350.0,476.9L2341.3,370.6L2314.5,267.3L2270.4,170.2L2210.4,82.0Z" fill="#b5cdfa"/>
<path d="M2053.0,236.7C2042.2,244.6 2032.6,251.6 2020.7,260.4C2008.8,269.2 2021.3,257.6 2017.3,263.2C2013.2,268.8 2014.9,266.7 2008.6,277.1C2002.2,287.6 2005.1,280.6 1998.1,294.5C1991.1,308.5 1993.5,300.5 1987.7,318.9C1981.9,337.4 1983.9,332.6 1980.7,349.9C1977.4,367.2 1978.5,355.8 1977.9,370.9C1977.3,386.0 1978.0,379.0 1979.0,395.3C1979.9,411.5 1977.8,402.2 1980.7,419.6C1983.6,437.0 1982.4,430.1 1987.7,447.5C1992.9,464.9 1990.0,455.6 1996.4,471.9C2002.7,488.1 1999.3,481.2 2006.8,496.2C2014.4,511.3 2010.3,503.2 2019.0,517.1C2027.7,531.1 2023.6,525.3 2032.9,538.0C2042.2,550.8 2039.3,547.9 2046.9,555.4C2054.4,563.0 2048.6,557.2 2055.6,560.7C2062.5,564.1 2060.2,564.5 2067.7,565.9C2075.3,567.3 2061.8,561.8 2078.2,564.8C2094.6,567.9 2104.0,571.6 2116.9,574.9L2329.9,630.5L2346.5,540.2L2349.5,448.5L2338.9,357.4L2315.1,268.8L2278.4,184.7L2229.7,106.9Z" fill="#cad8ef"/>
<path d="M2069.6,261.9C2058.3,268.9 2049.1,275.6 2035.7,283.1C2022.3,290.5 2033.3,281.4 2029.4,284.1C2025.6,286.8 2026.5,284.1 2024.2,291.1C2021.9,298.0 2024.8,293.4 2022.5,305.0C2020.2,316.6 2019.6,310.9 2017.3,325.9C2014.9,340.8 2014.4,332.6 2015.5,349.9C2016.7,367.2 2017.5,359.3 2020.7,377.9C2024.0,396.5 2023.3,387.1 2025.3,405.7C2027.2,424.3 2025.0,417.3 2026.7,433.6C2028.3,449.8 2026.9,439.4 2030.1,454.5C2033.4,469.5 2032.0,463.7 2036.4,478.8C2040.8,493.9 2037.6,487.0 2043.4,499.7C2049.2,512.5 2046.9,506.7 2053.8,517.1C2060.8,527.6 2057.9,521.8 2064.3,531.1C2070.6,540.3 2066.9,539.2 2073.0,545.0C2079.0,550.8 2066.2,544.6 2082.4,548.5C2098.5,552.4 2108.5,554.0 2121.5,556.7L2336.6,602.2L2349.1,508.1L2347.0,413.1L2330.5,319.6L2299.8,229.7L2255.9,145.5Z" fill="#dddcdc"/>
<path d="M1333.9,415.5C1347.1,417.5 1356.8,417.1 1373.5,421.4C1390.2,425.6 1378.7,418.5 1383.9,428.3C1389.2,438.2 1385.9,434.1 1389.2,451.0C1392.4,467.8 1392.2,463.7 1393.7,478.8C1395.2,493.9 1395.2,483.5 1393.7,496.2C1392.2,509.0 1392.4,503.2 1389.2,517.1C1385.9,531.1 1389.2,530.1 1383.9,538.0C1378.7,545.9 1390.1,537.4 1373.5,540.8C1356.9,544.2 1347.3,545.7 1334.2,548.2L1120.6,588.2L1110.1,486.0L1116.6,383.5Z" fill="#edd2c3"/>
<path d="M1334.4,558.6C1347.4,555.8 1356.4,551.8 1373.5,550.2C1390.6,548.6 1378.1,550.8 1385.7,553.7C1393.2,556.6 1391.5,552.5 1396.1,558.9C1400.8,565.3 1395.0,562.5 1399.6,572.8C1404.2,583.2 1404.2,577.2 1410.0,589.9C1415.8,602.6 1412.4,595.8 1417.0,610.9C1421.6,626.0 1422.2,622.5 1424.0,635.3C1425.7,648.0 1424.0,642.2 1422.2,649.2C1420.5,656.2 1431.4,647.1 1418.7,656.2C1406.1,665.2 1395.7,669.6 1384.2,676.4L1194.9,787.2L1152.0,698.2L1123.7,603.6Z" fill="#edd2c3"/>
<path d="M2074.3,270.7C2062.9,277.5 2052.5,282.0 2039.9,291.1C2027.2,300.2 2038.1,291.1 2036.4,298.0C2034.7,305.0 2033.5,300.3 2034.7,311.9C2035.8,323.6 2036.4,320.2 2039.9,332.8C2043.4,345.5 2041.0,339.5 2045.1,349.9C2049.2,360.3 2047.4,353.4 2052.1,363.9C2056.7,374.4 2055.0,372.1 2059.0,381.3C2063.1,390.6 2059.0,386.6 2064.3,391.8C2069.5,397.0 2067.7,396.1 2074.7,397.0C2081.7,397.9 2068.7,398.3 2085.2,394.6C2101.6,390.8 2111.2,388.7 2124.2,385.8L2335.1,338.7L2306.5,246.0L2263.9,158.8Z" fill="#edd2c3"/>
<path d="M2126.2,400.1C2113.1,402.6 2104.6,403.5 2086.9,407.5C2069.1,411.4 2079.4,404.4 2073.0,412.0C2066.6,419.5 2070.6,417.1 2067.7,430.1C2064.8,443.1 2064.3,435.9 2064.3,451.0C2064.3,466.1 2064.8,459.1 2067.7,475.3C2070.6,491.6 2070.6,484.6 2073.0,499.7C2075.3,514.8 2072.4,512.5 2074.7,520.6C2077.0,528.7 2075.9,523.5 2079.9,524.1C2084.0,524.7 2071.4,521.1 2086.9,522.4C2102.4,523.6 2113.3,525.9 2126.5,527.7L2344.4,557.2L2349.8,458.6L2339.5,360.3Z" fill="#edd2c3"/>
</g></g>
<defs>
<clipPath id="ax2"><rect x="2572.5" y="120.5" width="707.0" height="707.0"/></clipPath>
<clipPath id="pg2"><polygon points="3283.2,526.1 3283.2,421.9 3276.0,385.4 3236.1,289.2 3215.4,258.3 3141.7,184.6 3110.8,163.9 3014.6,124.0 2978.1,116.8 2873.9,116.8 2837.4,124.0 2741.2,163.9 2710.3,184.6 2636.6,258.3 2615.9,289.2 2576.0,385.4 2568.8,421.9 2568.8,526.1 2576.0,562.6 2615.9,658.8 2636.6,689.7 2710.3,763.4 2741.2,784.1 2837.4,824.0 2873.9,831.2 2978.1,831.2 3014.6,824.0 3110.8,784.1 3141.7,763.4 3215.4,689.7 3236.1,658.8 3276.0,562.6"/></clipPath>
<clipPath id="in2"><circle cx="2926.0" cy="474.0" r="345.0"/></clipPath>
</defs>
<g clip-path="url(#ax2)" shape-rendering="crispEdges">
<polygon points="3283.2,526.1 3283.2,421.9 3276.0,385.4 3236.1,289.2 3215.4,258.3 3141.7,184.6 3110.8,163.9 3014.6,124.0 2978.1,116.8 2873.9,116.8 2837.4,124.0 2741.2,163.9 2710.3,184.6 2636.6,258.3 2615.9,289.2 2576.0,385.4 2568.8,421.9 2568.8,526.1 2576.0,562.6 2615.9,658.8 2636.6,689.7 2710.3,763.4 2741.2,784.1 2837.4,824.0 2873.9,831.2 2978.1,831.2 3014.6,824.0 3110.8,784.1 3141.7,763.4 3215.4,689.7 3236.1,658.8 3276.0,562.6" fill="#124984"/>
<g clip-path="url(#in2)">
<rect x="2572.5" y="120.5" width="707.0" height="707.0" fill="#c43b3c"/>
<path d="M2606.0,258.3C2617.0,265.7 2622.3,269.7 2639.1,280.6C2656.0,291.5 2642.6,284.1 2656.5,291.1C2670.5,298.0 2664.7,294.0 2680.9,301.5C2697.2,309.0 2691.3,306.1 2705.3,313.7C2719.2,321.2 2711.1,317.8 2722.7,324.1C2734.3,330.5 2727.3,326.5 2740.1,332.8C2752.9,339.2 2749.4,337.6 2761.0,343.3C2772.6,349.0 2761.0,343.7 2774.9,350.0C2788.8,356.3 2784.2,354.6 2802.8,362.2C2821.3,369.7 2812.1,366.2 2830.6,372.6C2849.2,379.0 2839.9,377.3 2858.5,381.3C2877.0,385.4 2867.8,384.8 2886.3,384.8C2904.9,384.8 2901.0,384.6 2914.2,381.3C2927.4,378.1 2917.4,379.1 2926.0,375.1C2934.6,371.0 2930.6,375.2 2939.9,369.2C2949.2,363.1 2946.9,363.4 2953.9,357.0C2960.8,350.5 2952.7,357.9 2960.8,349.9C2968.9,341.9 2965.5,346.7 2978.2,332.8C2991.0,319.0 2985.2,325.9 2999.1,308.5C3013.0,291.1 3006.1,299.2 3020.0,280.6C3033.9,262.0 3028.1,269.0 3040.9,252.8C3053.7,236.5 3049.0,243.5 3058.3,231.9C3067.6,220.3 3061.8,227.8 3068.8,217.9C3075.7,208.1 3072.2,211.6 3079.2,202.3C3086.2,193.0 3081.5,196.5 3089.6,190.1C3097.8,183.7 3097.8,186.0 3103.6,183.1C3109.4,180.2 3098.9,193.3 3107.1,181.4C3115.2,169.5 3121.1,158.7 3128.1,147.4L3252.2,-53.2L3158.2,-100.9L3057.5,-131.9L2953.0,-145.4L2847.7,-141.0L2744.6,-118.9L2646.8,-79.6L2557.1,-24.3L2478.0,45.4L2411.9,127.4Z" fill="#e48066"/>
<path d="M2724.2,149.9C2731.2,161.2 2733.0,171.6 2745.3,183.8C2757.6,196.1 2746.5,187.1 2761.0,186.6C2775.5,186.1 2770.3,184.7 2788.8,182.4C2807.4,180.1 2798.1,181.7 2816.7,179.6C2835.3,177.5 2826.0,178.5 2844.6,176.2C2863.1,173.8 2855.0,176.2 2872.4,172.7C2889.8,169.2 2882.9,170.4 2896.8,165.7C2910.7,161.1 2904.4,163.2 2914.2,158.7C2923.9,154.3 2916.3,156.5 2926.0,152.5C2935.7,148.4 2931.8,150.9 2943.4,146.6C2955.0,142.3 2949.2,143.9 2960.8,139.6C2972.4,135.3 2970.4,148.8 2978.2,133.7C2986.1,118.5 2982.3,107.3 2984.3,94.1L3020.0,-138.8L2932.5,-146.0L2844.8,-140.7L2758.7,-123.0L2676.0,-93.4L2598.3,-52.3Z" fill="#f8bfa4"/>
<path d="M2722.4,799.8C2729.4,788.4 2730.7,781.2 2743.6,765.8C2756.4,750.5 2752.9,761.2 2761.0,753.6C2769.1,746.1 2761.0,752.5 2767.9,743.2C2774.9,733.9 2772.6,737.4 2781.9,725.8C2791.2,714.2 2787.7,720.0 2795.8,708.4C2803.9,696.8 2797.0,703.7 2806.3,691.0C2815.5,678.2 2812.1,684.0 2823.7,670.1C2835.3,656.2 2829.5,663.1 2841.1,649.2C2852.7,635.3 2848.0,641.1 2858.5,628.3C2868.9,615.5 2860.8,622.5 2872.4,610.9C2884.0,599.3 2879.4,603.8 2893.3,593.5C2907.2,583.1 2903.3,587.0 2914.2,579.8C2925.1,572.6 2917.4,577.0 2926.0,571.8C2934.6,566.6 2928.3,567.3 2939.9,564.1C2951.5,561.0 2945.7,561.8 2960.8,562.4C2975.9,563.0 2967.8,562.4 2985.2,565.9C3002.6,569.4 2995.6,567.6 3013.0,572.8C3030.5,578.1 3021.8,575.8 3037.4,581.5C3053.1,587.3 3045.0,583.7 3060.1,590.0C3075.1,596.3 3067.0,592.9 3082.7,600.4C3098.4,608.0 3092.0,604.5 3107.1,612.6C3122.1,620.8 3112.9,616.7 3127.9,624.8C3143.0,632.9 3136.1,629.5 3152.3,637.0C3168.6,644.5 3162.8,641.1 3176.7,647.5C3190.6,653.8 3183.1,649.8 3194.1,656.2C3205.1,662.5 3193.5,655.6 3209.8,666.6C3226.0,677.6 3231.8,681.6 3242.9,689.1L3439.0,822.2L3372.5,904.1L3293.2,973.6L3203.2,1028.6L3105.1,1067.6L3001.9,1089.3L2896.5,1093.3L2791.9,1079.3L2691.3,1047.8L2597.4,999.7Z" fill="#e48066"/>
<path d="M2866.2,854.1C2868.3,840.9 2863.4,831.2 2872.4,814.6C2881.4,797.9 2879.4,809.9 2893.3,804.1C2907.2,798.3 2903.3,801.2 2914.2,797.2C2925.1,793.1 2915.1,797.2 2926.0,791.9C2936.9,786.7 2931.8,787.3 2946.9,781.5C2962.0,775.7 2955.0,778.3 2971.3,774.5C2987.5,770.8 2978.2,772.7 2995.6,770.4C3013.0,768.0 3004.9,769.7 3023.5,767.6C3042.1,765.5 3033.9,766.4 3051.3,764.1C3068.8,761.8 3061.8,762.1 3075.7,760.6C3089.6,759.1 3083.8,759.0 3093.1,759.6C3102.4,760.1 3093.1,750.1 3103.6,762.4C3114.1,774.6 3117.6,785.1 3124.6,796.4L3251.1,1001.9L3173.3,1042.5L3090.6,1071.7L3004.6,1089.0L2917.0,1093.9L2829.6,1086.5Z" fill="#f8bfa4"/>
<path d="M2548.5,390.1C2561.6,393.0 2570.2,393.5 2587.6,398.7C2605.0,404.0 2590.6,397.6 2600.8,405.7C2611.0,413.8 2607.8,410.4 2618.2,423.1C2628.7,435.9 2624.6,428.9 2632.2,444.0C2639.7,459.1 2635.1,451.0 2640.9,468.4C2646.7,485.8 2644.9,477.7 2649.6,496.2C2654.2,514.8 2651.9,505.5 2654.8,524.1C2657.7,542.7 2656.3,530.0 2658.3,551.9C2660.2,573.9 2660.4,570.4 2660.7,590.0C2661.1,609.6 2661.3,597.0 2659.3,610.9C2657.3,624.8 2658.6,619.0 2654.8,631.8C2651.0,644.5 2653.6,639.3 2647.8,649.2C2642.0,659.1 2652.0,650.1 2637.4,661.4C2622.7,672.7 2615.0,675.9 2603.8,683.2L2406.0,811.6L2359.1,725.1L2326.5,632.2L2309.0,535.3L2307.1,436.9L2320.8,339.4Z" fill="#67001f"/>
<path d="M3247.8,264.0C3236.6,271.3 3228.7,275.6 3214.3,285.8C3199.9,296.0 3210.1,287.0 3204.6,294.5C3199.0,302.1 3201.6,298.0 3197.6,308.5C3193.5,318.9 3194.7,312.0 3192.4,325.9C3190.0,339.7 3190.6,332.7 3190.6,350.0C3190.6,367.3 3190.6,357.0 3192.4,377.9C3194.1,398.7 3192.9,389.5 3195.8,412.7C3198.7,435.9 3196.4,425.4 3201.1,447.5C3205.7,469.5 3203.4,460.3 3209.8,478.8C3216.2,497.4 3212.1,487.0 3220.2,503.2C3228.3,519.5 3224.3,513.6 3234.1,527.6C3244.0,541.5 3242.5,537.1 3249.8,545.0C3257.1,552.9 3241.0,546.1 3256.1,551.3C3271.2,556.4 3282.0,557.3 3295.0,560.4L3529.7,615.3L3544.6,516.3L3543.3,416.2L3526.0,317.6L3493.0,223.1L3445.2,135.1Z" fill="#67001f"/>
</g>
<path d="M3263.6,385.1L3266.9,398.7L3255.3,397.9L3254.2,393.1ZM3221.5,288.3L3228.8,300.3L3217.5,302.9L3214.9,298.6ZM3002.5,133.4L3016.0,136.7L3010.0,146.6L3005.2,145.4ZM2840.7,135.5L2854.3,132.4L2853.4,143.9L2848.5,145.0ZM2737.2,180.4L2749.1,173.1L2751.9,184.3L2747.6,186.9ZM2586.1,394.6L2589.5,381.0L2599.3,387.1L2598.1,392.0ZM2587.2,558.1L2584.1,544.5L2595.6,545.5L2596.7,550.3ZM2635.1,666.9L2627.6,655.1L2638.7,652.2L2641.4,656.4ZM2848.4,814.3L2834.8,810.9L2840.8,801.1L2845.7,802.3ZM3014.3,811.7L3000.7,815.0L3001.5,803.5L3006.4,802.3ZM3113.8,768.2L3101.9,775.5L3099.1,764.3L3103.4,761.7ZM3266.1,552.8L3262.6,566.4L3252.8,560.3L3254.0,555.5Z" fill="#124984"/>
</g>
<line x1="263.00" y1="827.5" x2="263.00" y2="846.5" class="tk"/>
<line x1="161.5" y1="745.00" x2="180.5" y2="745.00" class="tk"/>
<text x="263.00" y="884.2" class="st" text-anchor="middle">−0.075</text>
<text x="141.20" y="753.10" class="st" text-anchor="end">−0.075</text>
<line x1="353.33" y1="827.5" x2="353.33" y2="846.5" class="tk"/>
<line x1="161.5" y1="654.66" x2="180.5" y2="654.66" class="tk"/>
<text x="353.33" y="884.2" class="st" text-anchor="middle">−0.050</text>
<text x="141.20" y="662.76" class="st" text-anchor="end">−0.050</text>
<line x1="443.67" y1="827.5" x2="443.67" y2="846.5" class="tk"/>
<line x1="161.5" y1="564.33" x2="180.5" y2="564.33" class="tk"/>
<text x="443.67" y="884.2" class="st" text-anchor="middle">−0.025</text>
<text x="141.20" y="572.43" class="st" text-anchor="end">−0.025</text>
<line x1="534.00" y1="827.5" x2="534.00" y2="846.5" class="tk"/>
<line x1="161.5" y1="474.00" x2="180.5" y2="474.00" class="tk"/>
<text x="534.00" y="884.2" class="st" text-anchor="middle">0.000</text>
<text x="141.20" y="482.10" class="st" text-anchor="end">0.000</text>
<line x1="624.33" y1="827.5" x2="624.33" y2="846.5" class="tk"/>
<line x1="161.5" y1="383.67" x2="180.5" y2="383.67" class="tk"/>
<text x="624.33" y="884.2" class="st" text-anchor="middle">0.025</text>
<text x="141.20" y="391.77" class="st" text-anchor="end">0.025</text>
<line x1="714.66" y1="827.5" x2="714.66" y2="846.5" class="tk"/>
<line x1="161.5" y1="293.33" x2="180.5" y2="293.33" class="tk"/>
<text x="714.66" y="884.2" class="st" text-anchor="middle">0.050</text>
<text x="141.20" y="301.44" class="st" text-anchor="end">0.050</text>
<line x1="805.00" y1="827.5" x2="805.00" y2="846.5" class="tk"/>
<line x1="161.5" y1="203.00" x2="180.5" y2="203.00" class="tk"/>
<text x="805.00" y="884.2" class="st" text-anchor="middle">0.075</text>
<text x="141.20" y="211.10" class="st" text-anchor="end">0.075</text>
<rect x="180.5" y="120.5" width="707.0" height="707.0" fill="none" stroke="#000" stroke-width="1.1"/>
<text x="534.0" y="928" class="bt" text-anchor="middle">x / m</text>
<text transform="translate(43.0,474.0) rotate(-90)" class="bt" text-anchor="middle">y / m</text>
<line x1="1459.00" y1="827.5" x2="1459.00" y2="846.5" class="tk"/>
<line x1="1357.5" y1="745.00" x2="1376.5" y2="745.00" class="tk"/>
<text x="1459.00" y="884.2" class="st" text-anchor="middle">−0.075</text>
<text x="1337.20" y="753.10" class="st" text-anchor="end">−0.075</text>
<line x1="1549.34" y1="827.5" x2="1549.34" y2="846.5" class="tk"/>
<line x1="1357.5" y1="654.66" x2="1376.5" y2="654.66" class="tk"/>
<text x="1549.34" y="884.2" class="st" text-anchor="middle">−0.050</text>
<text x="1337.20" y="662.76" class="st" text-anchor="end">−0.050</text>
<line x1="1639.67" y1="827.5" x2="1639.67" y2="846.5" class="tk"/>
<line x1="1357.5" y1="564.33" x2="1376.5" y2="564.33" class="tk"/>
<text x="1639.67" y="884.2" class="st" text-anchor="middle">−0.025</text>
<text x="1337.20" y="572.43" class="st" text-anchor="end">−0.025</text>
<line x1="1730.00" y1="827.5" x2="1730.00" y2="846.5" class="tk"/>
<line x1="1357.5" y1="474.00" x2="1376.5" y2="474.00" class="tk"/>
<text x="1730.00" y="884.2" class="st" text-anchor="middle">0.000</text>
<text x="1337.20" y="482.10" class="st" text-anchor="end">0.000</text>
<line x1="1820.33" y1="827.5" x2="1820.33" y2="846.5" class="tk"/>
<line x1="1357.5" y1="383.67" x2="1376.5" y2="383.67" class="tk"/>
<text x="1820.33" y="884.2" class="st" text-anchor="middle">0.025</text>
<text x="1337.20" y="391.77" class="st" text-anchor="end">0.025</text>
<line x1="1910.66" y1="827.5" x2="1910.66" y2="846.5" class="tk"/>
<line x1="1357.5" y1="293.33" x2="1376.5" y2="293.33" class="tk"/>
<text x="1910.66" y="884.2" class="st" text-anchor="middle">0.050</text>
<text x="1337.20" y="301.44" class="st" text-anchor="end">0.050</text>
<line x1="2001.00" y1="827.5" x2="2001.00" y2="846.5" class="tk"/>
<line x1="1357.5" y1="203.00" x2="1376.5" y2="203.00" class="tk"/>
<text x="2001.00" y="884.2" class="st" text-anchor="middle">0.075</text>
<text x="1337.20" y="211.10" class="st" text-anchor="end">0.075</text>
<rect x="1376.5" y="120.5" width="707.0" height="707.0" fill="none" stroke="#000" stroke-width="1.1"/>
<text x="1730.0" y="928" class="bt" text-anchor="middle">x / m</text>
<text transform="translate(1239.0,474.0) rotate(-90)" class="bt" text-anchor="middle">y / m</text>
<line x1="2655.00" y1="827.5" x2="2655.00" y2="846.5" class="tk"/>
<line x1="2553.5" y1="745.00" x2="2572.5" y2="745.00" class="tk"/>
<text x="2655.00" y="884.2" class="st" text-anchor="middle">−0.075</text>
<text x="2533.20" y="753.10" class="st" text-anchor="end">−0.075</text>
<line x1="2745.34" y1="827.5" x2="2745.34" y2="846.5" class="tk"/>
<line x1="2553.5" y1="654.66" x2="2572.5" y2="654.66" class="tk"/>
<text x="2745.34" y="884.2" class="st" text-anchor="middle">−0.050</text>
<text x="2533.20" y="662.76" class="st" text-anchor="end">−0.050</text>
<line x1="2835.67" y1="827.5" x2="2835.67" y2="846.5" class="tk"/>
<line x1="2553.5" y1="564.33" x2="2572.5" y2="564.33" class="tk"/>
<text x="2835.67" y="884.2" class="st" text-anchor="middle">−0.025</text>
<text x="2533.20" y="572.43" class="st" text-anchor="end">−0.025</text>
<line x1="2926.00" y1="827.5" x2="2926.00" y2="846.5" class="tk"/>
<line x1="2553.5" y1="474.00" x2="2572.5" y2="474.00" class="tk"/>
<text x="2926.00" y="884.2" class="st" text-anchor="middle">0.000</text>
<text x="2533.20" y="482.10" class="st" text-anchor="end">0.000</text>
<line x1="3016.33" y1="827.5" x2="3016.33" y2="846.5" class="tk"/>
<line x1="2553.5" y1="383.67" x2="2572.5" y2="383.67" class="tk"/>
<text x="3016.33" y="884.2" class="st" text-anchor="middle">0.025</text>
<text x="2533.20" y="391.77" class="st" text-anchor="end">0.025</text>
<line x1="3106.66" y1="827.5" x2="3106.66" y2="846.5" class="tk"/>
<line x1="2553.5" y1="293.33" x2="2572.5" y2="293.33" class="tk"/>
<text x="3106.66" y="884.2" class="st" text-anchor="middle">0.050</text>
<text x="2533.20" y="301.44" class="st" text-anchor="end">0.050</text>
<line x1="3197.00" y1="827.5" x2="3197.00" y2="846.5" class="tk"/>
<line x1="2553.5" y1="203.00" x2="2572.5" y2="203.00" class="tk"/>
<text x="3197.00" y="884.2" class="st" text-anchor="middle">0.075</text>
<text x="2533.20" y="211.10" class="st" text-anchor="end">0.075</text>
<rect x="2572.5" y="120.5" width="707.0" height="707.0" fill="none" stroke="#000" stroke-width="1.1"/>
<text x="2926.0" y="928" class="bt" text-anchor="middle">x / m</text>
<text transform="translate(2435.0,474.0) rotate(-90)" class="bt" text-anchor="middle">y / m</text>
<rect x="931.5" y="852.15" width="45.0" height="69.25" fill="#6dc072"/>
<rect x="931.5" y="783.41" width="45.0" height="69.25" fill="#5db96b"/>
<rect x="931.5" y="714.66" width="45.0" height="69.25" fill="#4db163"/>
<rect x="931.5" y="645.92" width="45.0" height="69.25" fill="#3fa85b"/>
<rect x="931.5" y="577.17" width="45.0" height="69.25" fill="#359e53"/>
<rect x="931.5" y="508.42" width="45.0" height="69.25" fill="#2c944c"/>
<rect x="931.5" y="439.68" width="45.0" height="69.25" fill="#228a44"/>
<rect x="931.5" y="370.93" width="45.0" height="69.25" fill="#18823d"/>
<rect x="931.5" y="302.18" width="45.0" height="69.25" fill="#0d7836"/>
<rect x="931.5" y="233.44" width="45.0" height="69.25" fill="#026f2e"/>
<rect x="931.5" y="164.69" width="45.0" height="69.25" fill="#006328"/>
<rect x="931.5" y="95.95" width="45.0" height="69.25" fill="#005622"/>
<rect x="931.5" y="27.20" width="45.0" height="69.25" fill="#00441b"/>
<line x1="931.5" y1="852.15" x2="976.5" y2="852.15" stroke="#000" stroke-width="0.7"/>
<line x1="931.5" y1="783.41" x2="976.5" y2="783.41" stroke="#000" stroke-width="0.7"/>
<line x1="931.5" y1="714.66" x2="976.5" y2="714.66" stroke="#000" stroke-width="0.7"/>
<line x1="931.5" y1="645.92" x2="976.5" y2="645.92" stroke="#000" stroke-width="0.7"/>
<line x1="931.5" y1="577.17" x2="976.5" y2="577.17" stroke="#000" stroke-width="0.7"/>
<line x1="931.5" y1="508.42" x2="976.5" y2="508.42" stroke="#000" stroke-width="0.7"/>
<line x1="931.5" y1="439.68" x2="976.5" y2="439.68" stroke="#000" stroke-width="0.7"/>
<line x1="931.5" y1="370.93" x2="976.5" y2="370.93" stroke="#000" stroke-width="0.7"/>
<line x1="931.5" y1="302.18" x2="976.5" y2="302.18" stroke="#000" stroke-width="0.7"/>
<line x1="931.5" y1="233.44" x2="976.5" y2="233.44" stroke="#000" stroke-width="0.7"/>
<line x1="931.5" y1="164.69" x2="976.5" y2="164.69" stroke="#000" stroke-width="0.7"/>
<line x1="931.5" y1="95.95" x2="976.5" y2="95.95" stroke="#000" stroke-width="0.7"/>
<rect x="931.5" y="27.2" width="45.0" height="893.6999999999999" fill="none" stroke="#000" stroke-width="1.1"/>
<line x1="976.5" y1="920.90" x2="981.5" y2="920.90" class="tk"/>
<text x="986.5" y="937.50" class="bt">0</text>
<line x1="976.5" y1="852.15" x2="981.5" y2="852.15" class="tk"/>
<text x="986.5" y="868.75" class="bt">0.02</text>
<line x1="976.5" y1="783.41" x2="981.5" y2="783.41" class="tk"/>
<text x="986.5" y="800.01" class="bt">0.04</text>
<line x1="976.5" y1="714.66" x2="981.5" y2="714.66" class="tk"/>
<text x="986.5" y="731.26" class="bt">0.06</text>
<line x1="976.5" y1="645.92" x2="981.5" y2="645.92" class="tk"/>
<text x="986.5" y="662.52" class="bt">0.08</text>
<line x1="976.5" y1="577.17" x2="981.5" y2="577.17" class="tk"/>
<text x="986.5" y="593.77" class="bt">0.1</text>
<line x1="976.5" y1="508.42" x2="981.5" y2="508.42" class="tk"/>
<text x="986.5" y="525.02" class="bt">0.12</text>
<line x1="976.5" y1="439.68" x2="981.5" y2="439.68" class="tk"/>
<text x="986.5" y="456.28" class="bt">0.14</text>
<line x1="976.5" y1="370.93" x2="981.5" y2="370.93" class="tk"/>
<text x="986.5" y="387.53" class="bt">0.16</text>
<line x1="976.5" y1="302.18" x2="981.5" y2="302.18" class="tk"/>
<text x="986.5" y="318.78" class="bt">0.18</text>
<line x1="976.5" y1="233.44" x2="981.5" y2="233.44" class="tk"/>
<text x="986.5" y="250.04" class="bt">0.2</text>
<line x1="976.5" y1="164.69" x2="981.5" y2="164.69" class="tk"/>
<text x="986.5" y="181.29" class="bt">0.22</text>
<line x1="976.5" y1="95.95" x2="981.5" y2="95.95" class="tk"/>
<text x="986.5" y="112.55" class="bt">0.24</text>
<line x1="976.5" y1="27.20" x2="981.5" y2="27.20" class="tk"/>
<text x="986.5" y="43.80" class="bt">0.25</text>
<rect x="2127.5" y="861.32" width="45.0" height="60.08" fill="#445acc"/>
<rect x="2127.5" y="801.74" width="45.0" height="60.08" fill="#5977e3"/>
<rect x="2127.5" y="742.16" width="45.0" height="60.08" fill="#6f92f3"/>
<rect x="2127.5" y="682.58" width="45.0" height="60.08" fill="#86a9fc"/>
<rect x="2127.5" y="623.00" width="45.0" height="60.08" fill="#9ebeff"/>
<rect x="2127.5" y="563.42" width="45.0" height="60.08" fill="#b5cdfa"/>
<rect x="2127.5" y="503.84" width="45.0" height="60.08" fill="#cad8ef"/>
<rect x="2127.5" y="444.26" width="45.0" height="60.08" fill="#dddcdc"/>
<rect x="2127.5" y="384.68" width="45.0" height="60.08" fill="#edd2c3"/>
<rect x="2127.5" y="325.10" width="45.0" height="60.08" fill="#f5c1a9"/>
<rect x="2127.5" y="265.52" width="45.0" height="60.08" fill="#f7ac8e"/>
<rect x="2127.5" y="205.94" width="45.0" height="60.08" fill="#f29274"/>
<rect x="2127.5" y="146.36" width="45.0" height="60.08" fill="#e7745b"/>
<rect x="2127.5" y="86.78" width="45.0" height="60.08" fill="#d65244"/>
<rect x="2127.5" y="27.20" width="45.0" height="60.08" fill="#b40426"/>
<line x1="2127.5" y1="861.32" x2="2172.5" y2="861.32" stroke="#000" stroke-width="0.7"/>
<line x1="2127.5" y1="801.74" x2="2172.5" y2="801.74" stroke="#000" stroke-width="0.7"/>
<line x1="2127.5" y1="742.16" x2="2172.5" y2="742.16" stroke="#000" stroke-width="0.7"/>
<line x1="2127.5" y1="682.58" x2="2172.5" y2="682.58" stroke="#000" stroke-width="0.7"/>
<line x1="2127.5" y1="623.00" x2="2172.5" y2="623.00" stroke="#000" stroke-width="0.7"/>
<line x1="2127.5" y1="563.42" x2="2172.5" y2="563.42" stroke="#000" stroke-width="0.7"/>
<line x1="2127.5" y1="503.84" x2="2172.5" y2="503.84" stroke="#000" stroke-width="0.7"/>
<line x1="2127.5" y1="444.26" x2="2172.5" y2="444.26" stroke="#000" stroke-width="0.7"/>
<line x1="2127.5" y1="384.68" x2="2172.5" y2="384.68" stroke="#000" stroke-width="0.7"/>
<line x1="2127.5" y1="325.10" x2="2172.5" y2="325.10" stroke="#000" stroke-width="0.7"/>
<line x1="2127.5" y1="265.52" x2="2172.5" y2="265.52" stroke="#000" stroke-width="0.7"/>
<line x1="2127.5" y1="205.94" x2="2172.5" y2="205.94" stroke="#000" stroke-width="0.7"/>
<line x1="2127.5" y1="146.36" x2="2172.5" y2="146.36" stroke="#000" stroke-width="0.7"/>
<line x1="2127.5" y1="86.78" x2="2172.5" y2="86.78" stroke="#000" stroke-width="0.7"/>
<rect x="2127.5" y="27.2" width="45.0" height="893.6999999999999" fill="none" stroke="#000" stroke-width="1.1"/>
<line x1="2172.5" y1="920.90" x2="2177.5" y2="920.90" class="tk"/>
<text x="2182.5" y="937.50" class="bt">-20</text>
<line x1="2172.5" y1="861.32" x2="2177.5" y2="861.32" class="tk"/>
<text x="2182.5" y="877.92" class="bt">-18</text>
<line x1="2172.5" y1="801.74" x2="2177.5" y2="801.74" class="tk"/>
<text x="2182.5" y="818.34" class="bt">-16</text>
<line x1="2172.5" y1="742.16" x2="2177.5" y2="742.16" class="tk"/>
<text x="2182.5" y="758.76" class="bt">-14</text>
<line x1="2172.5" y1="682.58" x2="2177.5" y2="682.58" class="tk"/>
<text x="2182.5" y="699.18" class="bt">-12</text>
<line x1="2172.5" y1="623.00" x2="2177.5" y2="623.00" class="tk"/>
<text x="2182.5" y="639.60" class="bt">-10</text>
<line x1="2172.5" y1="563.42" x2="2177.5" y2="563.42" class="tk"/>
<text x="2182.5" y="580.02" class="bt">-8</text>
<line x1="2172.5" y1="503.84" x2="2177.5" y2="503.84" class="tk"/>
<text x="2182.5" y="520.44" class="bt">-6</text>
<line x1="2172.5" y1="444.26" x2="2177.5" y2="444.26" class="tk"/>
<text x="2182.5" y="460.86" class="bt">-4</text>
<line x1="2172.5" y1="384.68" x2="2177.5" y2="384.68" class="tk"/>
<text x="2182.5" y="401.28" class="bt">-2</text>
<line x1="2172.5" y1="325.10" x2="2177.5" y2="325.10" class="tk"/>
<text x="2182.5" y="341.70" class="bt">0</text>
<line x1="2172.5" y1="265.52" x2="2177.5" y2="265.52" class="tk"/>
<text x="2182.5" y="282.12" class="bt">2</text>
<line x1="2172.5" y1="205.94" x2="2177.5" y2="205.94" class="tk"/>
<text x="2182.5" y="222.54" class="bt">4</text>
<line x1="2172.5" y1="146.36" x2="2177.5" y2="146.36" class="tk"/>
<text x="2182.5" y="162.96" class="bt">6</text>
<line x1="2172.5" y1="86.78" x2="2177.5" y2="86.78" class="tk"/>
<text x="2182.5" y="103.38" class="bt">8</text>
<line x1="2172.5" y1="27.20" x2="2177.5" y2="27.20" class="tk"/>
<text x="2182.5" y="43.80" class="bt">10</text>
<rect x="3323.5" y="831.53" width="45.0" height="89.87" fill="#124984"/>
<rect x="3323.5" y="742.16" width="45.0" height="89.87" fill="#327cb7"/>
<rect x="3323.5" y="652.79" width="45.0" height="89.87" fill="#6bacd1"/>
<rect x="3323.5" y="563.42" width="45.0" height="89.87" fill="#b1d5e7"/>
<rect x="3323.5" y="474.05" width="45.0" height="89.87" fill="#e4eef4"/>
<rect x="3323.5" y="384.68" width="45.0" height="89.87" fill="#fae9df"/>
<rect x="3323.5" y="295.31" width="45.0" height="89.87" fill="#f8bfa4"/>
<rect x="3323.5" y="205.94" width="45.0" height="89.87" fill="#e48066"/>
<rect x="3323.5" y="116.57" width="45.0" height="89.87" fill="#c43b3c"/>
<rect x="3323.5" y="27.20" width="45.0" height="89.87" fill="#67001f"/>
<line x1="3323.5" y1="831.53" x2="3368.5" y2="831.53" stroke="#000" stroke-width="0.7"/>
<line x1="3323.5" y1="742.16" x2="3368.5" y2="742.16" stroke="#000" stroke-width="0.7"/>
<line x1="3323.5" y1="652.79" x2="3368.5" y2="652.79" stroke="#000" stroke-width="0.7"/>
<line x1="3323.5" y1="563.42" x2="3368.5" y2="563.42" stroke="#000" stroke-width="0.7"/>
<line x1="3323.5" y1="474.05" x2="3368.5" y2="474.05" stroke="#000" stroke-width="0.7"/>
<line x1="3323.5" y1="384.68" x2="3368.5" y2="384.68" stroke="#000" stroke-width="0.7"/>
<line x1="3323.5" y1="295.31" x2="3368.5" y2="295.31" stroke="#000" stroke-width="0.7"/>
<line x1="3323.5" y1="205.94" x2="3368.5" y2="205.94" stroke="#000" stroke-width="0.7"/>
<line x1="3323.5" y1="116.57" x2="3368.5" y2="116.57" stroke="#000" stroke-width="0.7"/>
<rect x="3323.5" y="27.2" width="45.0" height="893.6999999999999" fill="none" stroke="#000" stroke-width="1.1"/>
<line x1="3368.5" y1="920.90" x2="3373.5" y2="920.90" class="tk"/>
<text x="3378.5" y="937.50" class="bt">-0.05</text>
<line x1="3368.5" y1="831.53" x2="3373.5" y2="831.53" class="tk"/>
<text x="3378.5" y="848.13" class="bt">-0.045</text>
<line x1="3368.5" y1="742.16" x2="3373.5" y2="742.16" class="tk"/>
<text x="3378.5" y="758.76" class="bt">-0.04</text>
<line x1="3368.5" y1="652.79" x2="3373.5" y2="652.79" class="tk"/>
<text x="3378.5" y="669.39" class="bt">-0.035</text>
<line x1="3368.5" y1="563.42" x2="3373.5" y2="563.42" class="tk"/>
<text x="3378.5" y="580.02" class="bt">-0.03</text>
<line x1="3368.5" y1="474.05" x2="3373.5" y2="474.05" class="tk"/>
<text x="3378.5" y="490.65" class="bt">-0.025</text>
<line x1="3368.5" y1="384.68" x2="3373.5" y2="384.68" class="tk"/>
<text x="3378.5" y="401.28" class="bt">-0.02</text>
<line x1="3368.5" y1="295.31" x2="3373.5" y2="295.31" class="tk"/>
<text x="3378.5" y="311.91" class="bt">-0.015</text>
<line x1="3368.5" y1="205.94" x2="3373.5" y2="205.94" class="tk"/>
<text x="3378.5" y="222.54" class="bt">-0.01</text>
<line x1="3368.5" y1="116.57" x2="3373.5" y2="116.57" class="tk"/>
<text x="3378.5" y="133.17" class="bt">-0.005</text>
<line x1="3368.5" y1="27.20" x2="3373.5" y2="27.20" class="tk"/>
<text x="3378.5" y="43.80" class="bt">0</text>
<text x="535.5" y="111.7" text-anchor="middle" class="bt"><tspan class="mt" font-weight="bold">u</tspan> [mm]</text>
<text x="1730.0" y="111.7" text-anchor="middle" class="bt"><tspan class="mt">tr<tspan font-size="41.5" dy="-1.6">(</tspan><tspan dy="1.6" font-style="italic">σ</tspan><tspan font-size="41.5" dy="-1.6">)</tspan></tspan><tspan dy="1.6"> [MPa]</tspan></text>
<text x="2926.0" y="111.7" text-anchor="middle" class="mt">tr<tspan font-size="41.5" dy="-1.6">(</tspan><tspan dy="1.6" font-style="italic">ε</tspan><tspan font-size="41.5" dy="-1.6">)</tspan></text>
<text transform="translate(1123,474) rotate(-90)" class="bt" text-anchor="middle">displacement magnitude</text>
<text transform="translate(1174,550.7) rotate(-90) scale(1.5,1)" class="mt" text-anchor="middle">‖</text>
<text transform="translate(1174,530.7) rotate(-90)" class="mt" text-anchor="middle" font-style="italic">u</text>
<text transform="translate(1174,510.8) rotate(-90) scale(1.5,1)" class="mt" text-anchor="middle">‖</text>
<text transform="translate(1174,480.4) rotate(-90)" class="bt" text-anchor="middle">/</text>
<text transform="translate(1174,416.7) rotate(-90)" class="bt" text-anchor="middle">mm</text>
<text transform="translate(2292,474) rotate(-90)" class="bt" text-anchor="middle">stress trace <tspan class="mt">tr<tspan font-size="41.5" dy="-1.6">(</tspan><tspan dy="1.6" font-style="italic">σ</tspan><tspan font-size="41.5" dy="-1.6">)</tspan></tspan><tspan dy="1.6"> / MPa</tspan></text>
<text transform="translate(3562,474) rotate(-90)" class="bt" text-anchor="middle">strain trace <tspan class="mt">tr<tspan font-size="41.5" dy="-1.6">(</tspan><tspan dy="1.6" font-style="italic">ε</tspan><tspan font-size="41.5" dy="-1.6">)</tspan></tspan><tspan dy="1.6"> / %</tspan></text>
</svg>
</body></html>
